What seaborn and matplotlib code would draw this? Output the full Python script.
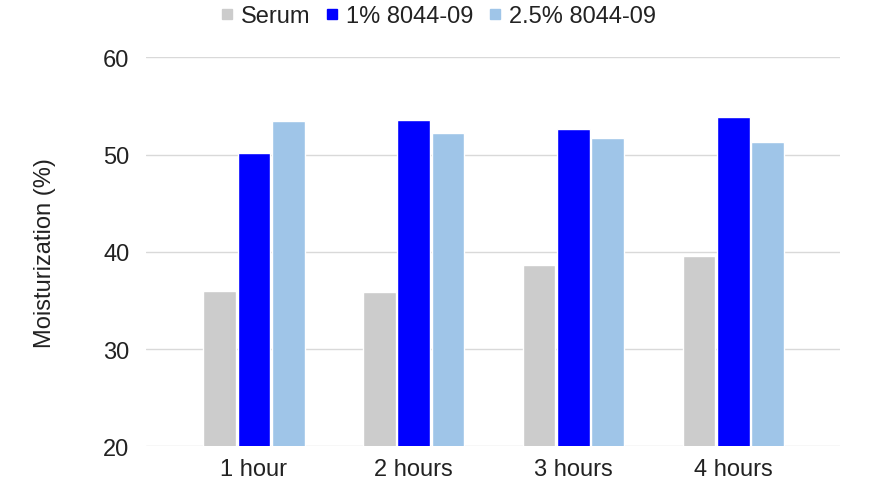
import matplotlib
matplotlib.use("Agg")
import matplotlib.pyplot as plt
from matplotlib.lines import Line2D
import pandas as pd
import seaborn as sns

timepoints = ["1 hour", "2 hours", "3 hours", "4 hours"]
series_names = ["Serum", "1% 8044-09", "2.5% 8044-09"]
serum = [36.0, 35.9, 38.7, 39.6]
pct1 = [50.2, 53.6, 52.6, 53.9]
pct25 = [53.5, 52.2, 51.7, 51.3]
colors = ["#cccccc", "#0000ff", "#9fc5e8"]

sns.set_theme(style="white")
plt.rcParams["font.family"] = ["Liberation Sans", "DejaVu Sans"]

rows = []
for name, vals in zip(series_names, [serum, pct1, pct25]):
    for t, v in zip(timepoints, vals):
        rows.append({"time": t, "series": name, "value": v})
df = pd.DataFrame(rows)

fig = plt.figure(figsize=(8.76, 5.02), dpi=100)
ax = fig.add_axes([0.1667, 0.1086, 0.7925, 0.7753])
sns.barplot(data=df, x="time", y="value", hue="series", order=timepoints,
            hue_order=series_names, palette=colors, width=0.645, gap=0.05,
            ax=ax, legend=False, saturation=1)

ax.set_ylim(20, 60)
ax.set_yticks([20, 30, 40, 50, 60])
ax.set_xlim(-0.675, 3.67)
ax.yaxis.grid(True, color="#d9d9d9", linewidth=1)
ax.set_axisbelow(True)
for s in ax.spines.values():
    s.set_visible(False)
ax.tick_params(axis="both", length=0, labelsize=17, colors="#222222")
ax.tick_params(axis="y", pad=12)
ax.tick_params(axis="x", pad=8)
ax.set_xlabel("")
ax.set_ylabel("Moisturization (%)", fontsize=17, color="#222222", labelpad=34)

handles = [Line2D([0], [0], marker="s", linestyle="", markersize=7,
                  markerfacecolor=c, markeredgecolor=c) for c in colors]
fig.legend(handles, series_names, loc="upper center", bbox_to_anchor=(0.5, 1.03),
           ncol=3, frameon=False, fontsize=17, handlelength=0.6,
           handletextpad=0.3, columnspacing=0.6, labelcolor="#222222")

fig.savefig("out.png", dpi=100)
